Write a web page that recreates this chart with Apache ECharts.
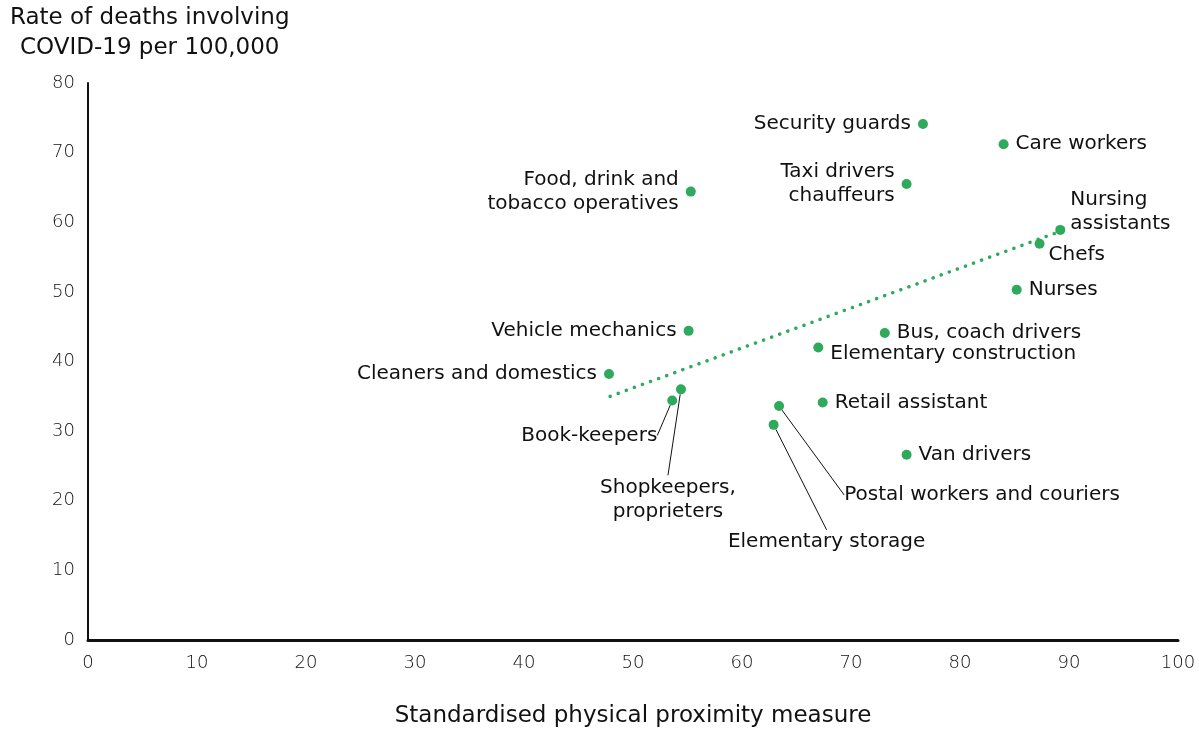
<!DOCTYPE html>
<html>
<head>
<meta charset="utf-8">
<script src="https://cdn.jsdelivr.net/npm/echarts@6/dist/echarts.min.js"></script>
<style>
  html, body { margin: 0; padding: 0; background: #fff; overflow: hidden; }
  #chart { width: 100vw; height: 100vh; }
</style>
</head>
<body>
<div id="chart"></div>
<script>
// ---- Data ----
const occupations = [
  'Security guards', 'Care workers', 'Taxi drivers\nchauffeurs', 'Food, drink and\ntobacco operatives',
  'Nursing\nassistants', 'Chefs', 'Nurses', 'Bus, coach drivers', 'Elementary construction',
  'Vehicle mechanics', 'Cleaners and domestics', 'Shopkeepers,\nproprieters', 'Book-keepers',
  'Postal workers and couriers', 'Retail assistant', 'Elementary storage', 'Van drivers'
];
const proximity = [76.6, 84.0, 75.1, 55.3, 89.2, 87.3, 85.2, 73.1, 67.0, 55.1, 47.8, 54.4, 53.6, 63.4, 67.4, 62.9, 75.1];
const deathRate = [74.1, 71.2, 65.5, 64.4, 58.9, 56.9, 50.3, 44.1, 42.0, 44.4, 38.2, 36.0, 34.4, 33.6, 34.1, 30.9, 26.6];
const trendX = [47.9, 89.2];
const trendY = [35.0, 58.7];
const xTicks = [0, 100, 10];
const yTicks = [0, 80, 10];

// ---- Label styling (placement only) ----
const labelPlacement = {
  'Security guards': { position: 'left' },
  'Care workers': { position: 'right' },
  'Taxi drivers\nchauffeurs': { position: 'left' },
  'Food, drink and\ntobacco operatives': { position: 'left' },
  'Nursing\nassistants': { position: 'right', move: [-2, -18] },
  'Chefs': { position: 'right', move: [-3, 11] },
  'Nurses': { position: 'right' },
  'Bus, coach drivers': { position: 'right' },
  'Elementary construction': { position: 'right', move: [0, 6] },
  'Vehicle mechanics': { position: 'left' },
  'Cleaners and domestics': { position: 'left' },
  'Retail assistant': { position: 'right' },
  'Van drivers': { position: 'right' },
  'Shopkeepers,\nproprieters': { position: 'inside', move: [-13, 110], guide: true },
  'Book-keepers': { position: 'inside', move: [-83, 35], guide: true },
  'Postal workers and couriers': { position: 'inside', move: [203, 89], guide: true },
  'Elementary storage': { position: 'inside', move: [53, 117], guide: true }
};

const GREEN = '#2fa95c';
const FONT = 'DejaVu Sans';
const labelFont = { fontFamily: FONT, fontSize: 20, color: '#111', lineHeight: 24 };

const points = occupations.map((name, i) => {
  const p = labelPlacement[name] || { position: 'right' };
  const item = {
    name: name,
    value: [proximity[i], deathRate[i]],
    label: Object.assign({ show: true, formatter: name, position: p.position, distance: 7 }, labelFont)
  };
  if (p.position === 'left') item.label.align = 'right';
  if (p.position === 'right') item.label.align = 'left';
  if (p.guide) item.labelLine = { show: true, lineStyle: { color: '#111', width: 1 } };
  return item;
});

const chart = echarts.init(document.getElementById('chart'), null, { renderer: 'canvas' });
chart.setOption({
  animation: false,
  backgroundColor: '#fff',
  graphic: [{
    type: 'text',
    left: 10, top: 3,
    style: {
      text: 'Rate of deaths involving\nCOVID-19 per 100,000',
      fill: '#111',
      font: '23px "DejaVu Sans"',
      textAlign: 'center',
      lineHeight: 30
    }
  }],
  grid: { left: 88, right: 21, top: 83, bottom: 91, containLabel: false },
  xAxis: {
    type: 'value', min: xTicks[0], max: xTicks[1], interval: xTicks[2],
    name: 'Standardised physical proximity measure',
    nameLocation: 'middle', nameGap: 65,
    nameTextStyle: { fontFamily: FONT, fontSize: 23, color: '#111' },
    axisLine: { show: true, lineStyle: { color: '#111', width: 3 } },
    axisTick: { show: false },
    splitLine: { show: false },
    axisLabel: { fontFamily: FONT, fontWeight: 200, fontSize: 18, color: '#111', margin: 14 }
  },
  yAxis: {
    type: 'value', min: yTicks[0], max: yTicks[1], interval: yTicks[2],
    axisLine: { show: true, lineStyle: { color: '#111', width: 2 } },
    axisTick: { show: false },
    splitLine: { show: false },
    axisLabel: { fontFamily: FONT, fontWeight: 200, fontSize: 18, color: '#111', margin: 13 }
  },
  series: [
    {
      type: 'line',
      data: trendX.map((x, i) => [x, trendY[i]]),
      symbol: 'none',
      lineStyle: { color: GREEN, width: 3.5, type: [0.1, 8.5], cap: 'round' },
      z: 1,
      silent: true
    },
    {
      type: 'scatter',
      data: points,
      symbolSize: 10,
      itemStyle: { color: GREEN, opacity: 1 },
      z: 3,
      labelLayout: function (params) {
        const p = labelPlacement[occupations[params.dataIndex]];
        if (p && p.move) return { dx: p.move[0], dy: p.move[1] };
        return {};
      }
    }
  ]
});
window.addEventListener('resize', function () { chart.resize(); });
setTimeout(function () { chart.resize(); }, 50);
</script>
</body>
</html>
